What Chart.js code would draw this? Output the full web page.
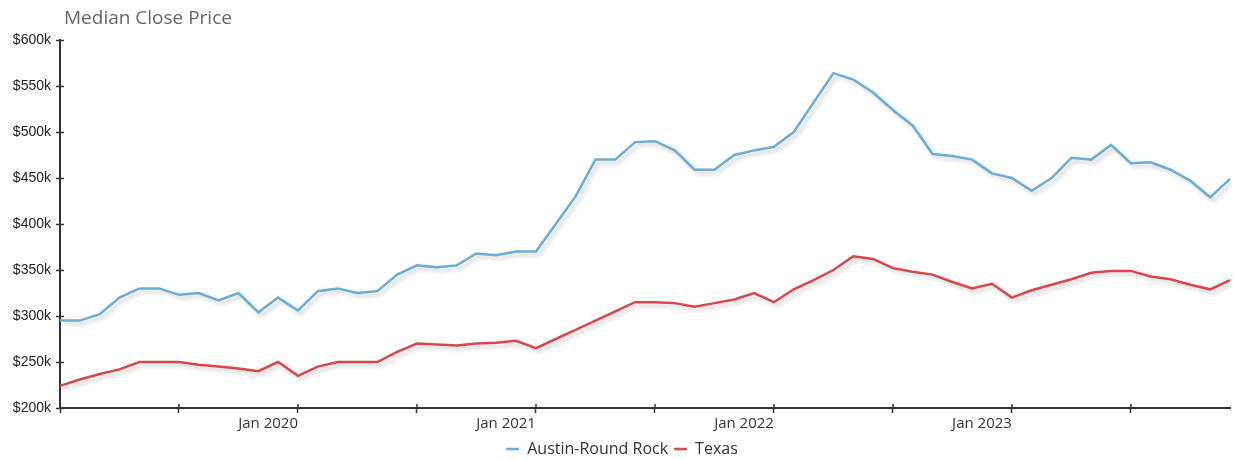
<!DOCTYPE html>
<html>
<head>
<meta charset="utf-8">
<script src="https://cdn.jsdelivr.net/npm/chart.js@4.4.1/dist/chart.umd.min.js"></script>
<style>
  body { margin: 0; background: #fff; overflow: hidden; }
  #wrap { position: relative; width: 1237px; height: 459px; }
  #title { position: absolute; left: 64px; top: 4px; font: 19px "Open Sans", sans-serif; color: #666; }
</style>
</head>
<body>
<div id="wrap">
  <div id="title">Median Close Price</div>
  <canvas id="priceChart"></canvas>
</div>
<script>
// 월별 라벨 (2019-01 ~ 2023-12)
const months = [
  'Jan 2019','Feb 2019','Mar 2019','Apr 2019','May 2019','Jun 2019','Jul 2019','Aug 2019','Sep 2019','Oct 2019','Nov 2019','Dec 2019',
  'Jan 2020','Feb 2020','Mar 2020','Apr 2020','May 2020','Jun 2020','Jul 2020','Aug 2020','Sep 2020','Oct 2020','Nov 2020','Dec 2020',
  'Jan 2021','Feb 2021','Mar 2021','Apr 2021','May 2021','Jun 2021','Jul 2021','Aug 2021','Sep 2021','Oct 2021','Nov 2021','Dec 2021',
  'Jan 2022','Feb 2022','Mar 2022','Apr 2022','May 2022','Jun 2022','Jul 2022','Aug 2022','Sep 2022','Oct 2022','Nov 2022','Dec 2022',
  'Jan 2023','Feb 2023','Mar 2023','Apr 2023','May 2023','Jun 2023','Jul 2023','Aug 2023','Sep 2023','Oct 2023','Nov 2023','Dec 2023'
];

// 중간 거래 가격 (천 달러)
const austinPrices = [
  295, 295, 302, 320, 330, 330, 323, 325, 317, 325, 304, 320,
  306, 327, 330, 325, 327, 345, 355, 353, 355, 368, 366, 370,
  370, 400, 430, 470, 470, 489, 490, 480, 459, 459, 475, 480,
  484, 500, 532, 564, 557, 543, 524, 507, 476, 474, 470, 455,
  450, 436, 450, 472, 470, 486, 466, 467, 459, 447, 429, 449
];
const texasPrices = [
  224, 231, 237, 242, 250, 250, 250, 247, 245, 243, 240, 250,
  235, 245, 250, 250, 250, 261, 270, 269, 268, 270, 271, 273,
  265, 275, 285, 295, 305, 315, 315, 314, 310, 314, 318, 325,
  315, 329, 339, 350, 365, 362, 352, 348, 345, 337, 330, 335,
  320, 328, 334, 340, 347, 349, 349, 343, 340, 334, 329, 339
];

const AXIS_COLOR = '#333';

// 선 아래 그림자
const lineShadow = {
  id: 'lineShadow',
  beforeDatasetsDraw(chart) {
    const c = chart.ctx;
    c.save();
    c.shadowColor = 'rgba(0,0,0,0.2)';
    c.shadowBlur = 4;
    c.shadowOffsetX = 3;
    c.shadowOffsetY = 3;
  },
  afterDatasetsDraw(chart) {
    chart.ctx.restore();
  }
};

// 범례를 살짝 오른쪽으로
const legendShift = {
  id: 'legendShift',
  afterLayout(chart) {
    chart.legend.left += 14;
  }
};

// 축 안쪽으로 튀어나온 눈금
const innerTicks = {
  id: 'innerTicks',
  afterDraw(chart) {
    const c = chart.ctx;
    const x = chart.scales.x, y = chart.scales.y;
    c.save();
    c.strokeStyle = AXIS_COLOR;
    c.lineWidth = 1.5;
    c.beginPath();
    y.ticks.forEach((t, i) => {
      const py = Math.round(y.getPixelForTick(i)) + 0.5;
      c.moveTo(y.right, py);
      c.lineTo(y.right + 4, py);
    });
    x.ticks.forEach((t, i) => {
      if (i === 0 || i % 6 !== 0) return;
      const px = Math.round(x.getPixelForTick(i));
      c.moveTo(px, x.top);
      c.lineTo(px, x.top - 4);
    });
    c.stroke();
    c.restore();
  }
};

const ctx = document.getElementById('priceChart').getContext('2d');
const priceChart = new Chart(ctx, {
  type: 'line',
  data: {
    labels: months,
    datasets: [{
      label: 'Austin-Round Rock',
      data: austinPrices,
      borderColor: '#6aaed6',
      backgroundColor: '#6aaed6',
      borderWidth: 2.5,
      pointRadius: 0,
      tension: 0,
      fill: false,
    }, {
      label: 'Texas',
      data: texasPrices,
      borderColor: '#d7474b',
      backgroundColor: '#d7474b',
      borderWidth: 2.5,
      pointRadius: 0,
      tension: 0,
      fill: false,
    }],
  },
  options: {
    responsive: true,
    maintainAspectRatio: false,
    animation: false,
    layout: { padding: { left: 0, right: 7, top: 40, bottom: -8 } },
    plugins: {
      legend: {
        position: 'bottom',
        labels: {
          usePointStyle: true,
          pointStyle: 'line',
          pointStyleWidth: 13,
          boxHeight: 10,
          padding: 6,
          color: '#333',
          font: { family: '"Open Sans", sans-serif', size: 16 },
        },
      },
      tooltip: { enabled: false },
    },
    scales: {
      x: {
        afterFit(scale) { scale.height = 27; },
        border: { display: true, color: AXIS_COLOR, width: 2 },
        grid: {
          drawOnChartArea: false,
          drawTicks: true,
          tickLength: 5,
          tickWidth: 1.5,
          tickColor: (c) => (c.index % 6 === 0 ? AXIS_COLOR : 'rgba(0,0,0,0)'),
        },
        ticks: {
          autoSkip: false,
          maxRotation: 0,
          align: 'end',
          padding: 2,
          color: '#333',
          font: { family: '"Open Sans", sans-serif', size: 15 },
          callback: (v, i) => (i > 0 && i % 12 === 0 ? months[i] : ''),
        },
      },
      y: {
        min: 200,
        max: 600,
        afterFit(scale) { scale.width = 60; },
        border: { display: true, color: AXIS_COLOR, width: 2 },
        grid: {
          drawOnChartArea: false,
          drawTicks: true,
          tickLength: 4,
          tickWidth: 1.5,
          tickColor: AXIS_COLOR,
        },
        ticks: {
          stepSize: 50,
          padding: 5,
          color: '#222',
          font: { family: '"Liberation Sans", Arial, sans-serif', size: 14 },
          callback: (v) => '$' + v + 'k',
        },
      },
    },
  },
  plugins: [lineShadow, innerTicks, legendShift],
});
</script>
</body>
</html>
